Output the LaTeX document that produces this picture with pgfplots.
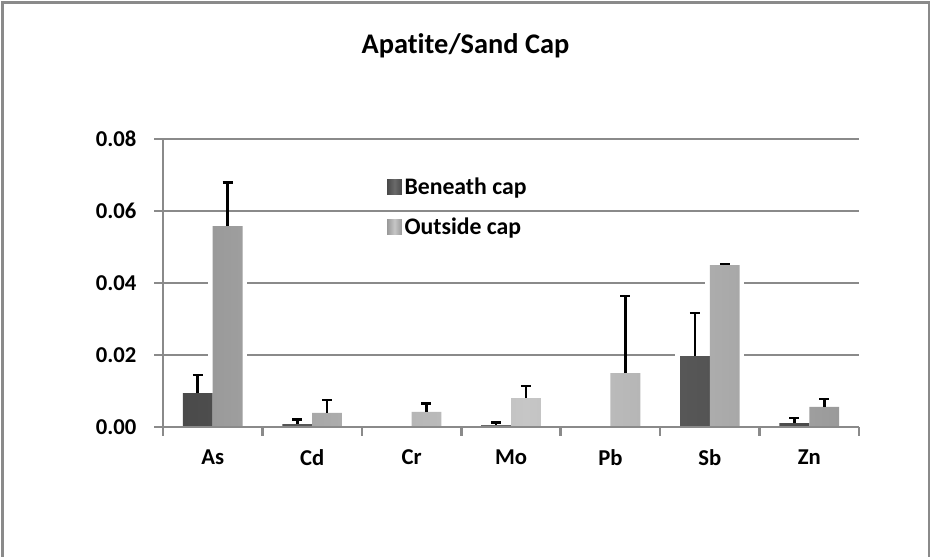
\documentclass[border=0pt]{standalone}
\usepackage{pgfplots}
\pgfplotsset{compat=1.18}
\usepackage{pgfplotstable}
\usepackage{fontspec}
\setmainfont{Carlito}[Ligatures=NoCommon]
\definecolor{gridgray}{HTML}{8A8A8A}
\definecolor{dkL}{HTML}{4A4A4A}
\definecolor{dkM}{HTML}{6A6A6A}
\definecolor{ltL}{HTML}{9A9A9A}
\definecolor{ltM}{HTML}{C6C6C6}

% idx, beneath cap, its error, outside cap, its error
\pgfplotstableread{
idx b be o oe
0 0.0094 0.0050 0.0558 0.0122
1 0.0008 0.0012 0.0039 0.0036
2 0.0002 0.0000 0.0042 0.0024
3 0.0005 0.0007 0.0080 0.0034
4 0.0002 0.0000 0.0150 0.0214
5 0.0197 0.0120 0.0450 0.0003
6 0.0011 0.0014 0.0056 0.0022
}\data
% beneath-cap error bars (none visible for Cr and Pb)
\pgfplotstableread{
idx b be
0 0.0094 0.0050
1 0.0008 0.0012
3 0.0005 0.0007
5 0.0197 0.0120
6 0.0011 0.0014
}\databerr

\begin{document}
\begin{tikzpicture}
\useasboundingbox (0,0) rectangle (697.5pt,417pt);
\draw[gridgray, line width=2.25pt] (1.5pt,-10pt) -- (1.5pt,414.75pt) -- (696.75pt,414.75pt) -- (696.75pt,-10pt);
\node[font=\fontsize{21.3}{24}\selectfont\bfseries, anchor=base, inner sep=0pt] at (349.1pt,376.5pt) {Apatite/Sand Cap};
\begin{axis}[
  at={(122.25pt,96.75pt)}, anchor=south west,
  width=522pt, height=216pt, scale only axis,
  xmin=-0.5, xmax=6.5, ymin=0, ymax=0.08,
  axis x line*=bottom, axis y line*=left,
  axis line style={gridgray, line width=2pt, -},
  ytick={0,0.02,0.04,0.06,0.08},
  scaled y ticks=false,
  ymajorgrids, grid style={gridgray, line width=2pt},
  xtick={-0.5,0.5,...,6.5}, xticklabels={},
  extra x ticks={0,1,2,3,4,5,6},
  extra x tick labels={As,Cd,Cr,Mo,Pb,Sb,Zn},
  extra x tick style={major tick length=0pt},
  tick style={gridgray, line width=2pt},
  major tick length=6.75pt, tick align=outside,
  ticklabel style={font=\fontsize{17}{20}\selectfont\bfseries},
  /pgf/number format/assume math mode=true,
  yticklabel style={/pgf/number format/fixed, /pgf/number format/fixed zerofill, /pgf/number format/precision=2, xshift=-9.75pt},
  xticklabel style={inner sep=0pt, anchor=north, yshift=-17pt},
  legend style={at={(0.316,0.885)}, anchor=north west, draw=none, fill=none,
    font=\fontsize{17.8}{20}\selectfont\bfseries, row sep=12pt},
  legend cell align=left,
  legend image code/.code={\fill[#1] (0pt,-5.5pt) rectangle (11pt,5.5pt);},
]
% white glow behind bars
\addplot[ybar, bar width=0.3, bar shift=0, fill=white, draw=white, line width=7pt, forget plot] table[x expr=\thisrow{idx}-0.15,y=b]{\data};
\addplot[ybar, bar width=0.3, bar shift=0, fill=white, draw=white, line width=7pt, forget plot] table[x expr=\thisrow{idx}+0.15,y=o]{\data};
% bars
\addplot[ybar, bar width=0.3, bar shift=0, draw=none, left color=dkL, right color=dkL, middle color=dkM]
  table[x expr=\thisrow{idx}-0.15,y=b]{\data};
\addlegendentry{Beneath cap}
\addplot[ybar, bar width=0.3, bar shift=0, draw=none, left color=ltL, right color=ltL, middle color=ltM]
  table[x expr=\thisrow{idx}+0.15,y=o]{\data};
\addlegendentry{Outside cap}
% error bars (plus direction only)
\addplot[draw=none, mark=none, forget plot,
  error bars/.cd, y dir=plus, y explicit,
  error bar style={draw=black, solid, line width=2pt},
  error mark options={draw=black, solid, line width=2pt, mark size=3.75pt, rotate=90}]
  table[x expr=\thisrow{idx}-0.15,y=b,y error=be]{\databerr};
\addplot[draw=none, mark=none, forget plot,
  error bars/.cd, y dir=plus, y explicit,
  error bar style={draw=black, solid, line width=2pt},
  error mark options={draw=black, solid, line width=2pt, mark size=3.75pt, rotate=90}]
  table[x expr=\thisrow{idx}+0.15,y=o,y error=oe]{\data};
\draw[gridgray, line width=2pt] (axis cs:-0.5,0) -- (axis cs:6.5,0);
\end{axis}
\end{tikzpicture}
\end{document}
